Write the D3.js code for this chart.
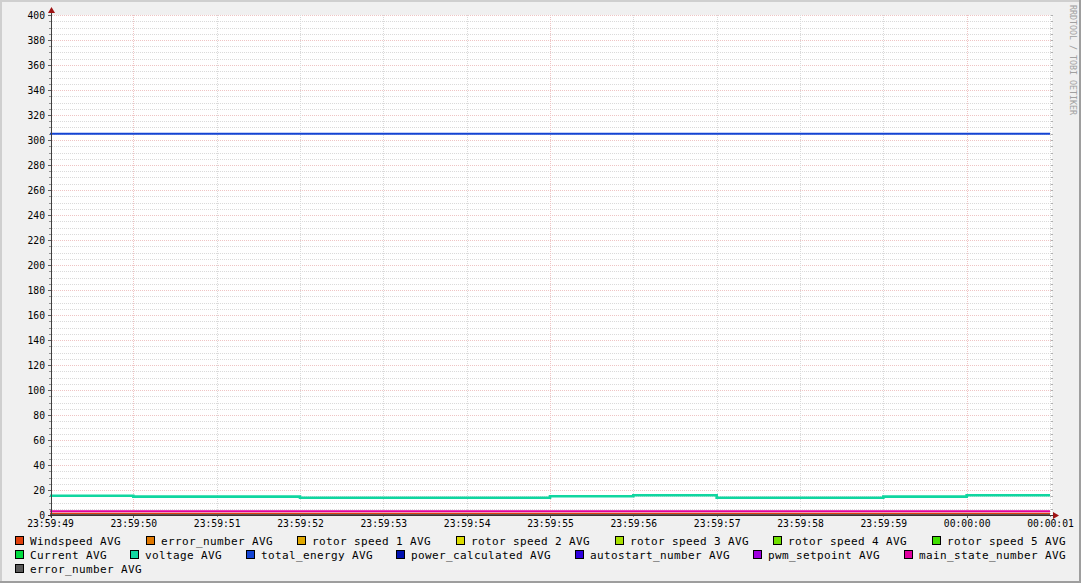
<!DOCTYPE html>
<html><head><meta charset="utf-8">
<script src="https://cdn.jsdelivr.net/npm/d3@7"></script>
<style>
html,body{margin:0;padding:0;background:#f0f0f0;}
svg{display:block;}
text{font-family:"DejaVu Sans Mono",monospace;}
</style></head>
<body>
<svg id="chart" width="1081" height="583"></svg>
<script>
// ---- data ----
const startTime = "2000-01-01T23:59:49";
const endTime = "2000-01-02T00:00:01";
const yTicks = [0,20,40,60,80,100,120,140,160,180,200,220,240,260,280,300,320,340,360,380,400];
const seriesNames = ["Windspeed AVG","error_number AVG","rotor speed 1 AVG","rotor speed 2 AVG","rotor speed 3 AVG","rotor speed 4 AVG","rotor speed 5 AVG","Current AVG","voltage AVG","total_energy AVG","power_calculated AVG","autostart_number AVG","pwm_setpoint AVG","main_state_number AVG","error_number AVG"];
const seriesColors = ["#e0400c","#e07800","#e0a800","#dcdc00","#a8e000","#70e000","#40e000","#00dc40","#11d6a0","#1444d4","#0010b0","#3000e0","#a000e0","#e000a0","#585858"];
const windspeed = [1,1,1,1,1,1,1,1,1,1,1,1];
const errorNumber = [0,0,0,0,0,0,0,0,0,0,0,0];
const rotor1 = [0,0,0,0,0,0,0,0,0,0,0,0];
const rotor2 = [0,0,0,0,0,0,0,0,0,0,0,0];
const rotor3 = [0,0,0,0,0,0,0,0,0,0,0,0];
const rotor4 = [0,0,0,0,0,0,0,0,0,0,0,0];
const rotor5 = [0,0,0,0,0,0,0,0,0,0,0,0];
const current = [0,0,0,0,0,0,0,0,0,0,0,0];
const voltage = [15.4,14.7,14.7,13.8,13.8,13.8,15.0,15.8,13.8,13.8,14.7,15.8];
const totalEnergy = [305,305,305,305,305,305,305,305,305,305,305,305];
const powerCalculated = [0,0,0,0,0,0,0,0,0,0,0,0];
const autostartNumber = [0,0,0,0,0,0,0,0,0,0,0,0];
const pwmSetpoint = [0,0,0,0,0,0,0,0,0,0,0,0];
const mainStateNumber = [3,3,3,3,3,3,3,3,3,3,3,3];
const errorNumber2 = [0,0,0,0,0,0,0,0,0,0,0,0];
const seriesValues = [windspeed,errorNumber,rotor1,rotor2,rotor3,rotor4,rotor5,current,voltage,totalEnergy,powerCalculated,autostartNumber,pwmSetpoint,mainStateNumber,errorNumber2];
const legendRowSizes = [7,7,1];

// ---- layout ----
const W = 1081, H = 583;
const X0 = 51, X1 = 1051, Y0 = 515, Y1 = 15;
const svg = d3.select("#chart");

svg.append("rect").attr("width",W).attr("height",H).attr("fill","#f0f0f0");
// 3D border
svg.append("rect").attr("x",0).attr("y",0).attr("width",W).attr("height",2).attr("fill","#cfcfcf");
svg.append("rect").attr("x",0).attr("y",0).attr("width",2).attr("height",H).attr("fill","#cfcfcf");
svg.append("rect").attr("x",0).attr("y",H-2).attr("width",W).attr("height",2).attr("fill","#9e9e9e");
svg.append("rect").attr("x",W-2).attr("y",0).attr("width",2).attr("height",H).attr("fill","#9e9e9e");

// canvas
svg.append("rect").attr("x",X0).attr("y",Y1).attr("width",X1-X0+1).attr("height",Y0-Y1).attr("fill","#ffffff");

const t0 = new Date(startTime), t1 = new Date(endTime);
const x = d3.scaleTime().domain([t0,t1]).range([50,1050]);
const y = d3.scaleLinear().domain([0,400]).range([Y0,Y1]);

// grid
const grid = svg.append("g").attr("shape-rendering","crispEdges");
const minorY = d3.range(0,401,5);
minorY.forEach(v=>{
  const major = v%20===0;
  const yy = Math.round(y(v))+0.5;
  if(v>0) grid.append("line").attr("x1",X0+1).attr("x2",X1).attr("y1",yy).attr("y2",yy)
    .attr("stroke",major?"#efc4c4":"#dadada").attr("stroke-dasharray","1,1");
  grid.append("line").attr("x1",X0-(major?3:2)).attr("x2",X0).attr("y1",yy).attr("y2",yy).attr("stroke",major?"#606060":"#909090");
  grid.append("line").attr("x1",X1).attr("x2",X1+2).attr("y1",yy).attr("y2",yy).attr("stroke","#b0b0b0");
});
const secTicks = x.ticks(d3.timeSecond.every(1));
secTicks.forEach(d=>{
  const major = d.getSeconds()%5===0;
  const xx = Math.round(x(d))+0.5;
  if(xx>X0+1) grid.append("line").attr("x1",xx).attr("x2",xx).attr("y1",Y1).attr("y2",Y0)
    .attr("stroke",major?"#efc4c4":"#dadada").attr("stroke-dasharray","1,1");
  grid.append("line").attr("x1",xx).attr("x2",xx).attr("y1",Y0).attr("y2",Y0+(major?3:2)).attr("stroke",major?"#606060":"#909090");
});

// series
const line = d3.line().curve(d3.curveStepAfter).x(d=>x(d.t)).y(d=>y(d.v));
seriesValues.forEach((vals,i)=>{
  const pts = vals.map((v,k)=>({t:d3.timeSecond.offset(t0,k),v}));
  pts.push({t:t1,v:vals[vals.length-1]});
  svg.append("path").datum(pts).attr("d",line).attr("fill","none")
    .attr("stroke",seriesColors[i]).attr("stroke-width", i===8?2.6:2);
});

// axes lines
svg.append("line").attr("x1",X0+0.5).attr("x2",X0+0.5).attr("y1",Y0+3).attr("y2",11).attr("stroke","#404040").attr("shape-rendering","crispEdges");
svg.append("line").attr("x1",X0-3).attr("x2",1054).attr("y1",Y0+0.5).attr("y2",Y0+0.5).attr("stroke","#403030").attr("shape-rendering","crispEdges");
svg.append("path").attr("d",`M${X0-3},${13} L${X0+0.5},${7} L${X0+4},${13} Z`).attr("fill","#a01414");
svg.append("path").attr("d",`M1053,${Y0-3} L1059,${Y0+0.5} L1053,${Y0+4} Z`).attr("fill","#a01414");

// y labels
const yAxis = d3.axisLeft(y).tickValues(yTicks).tickSize(0).tickPadding(6).tickFormat(d3.format("d"));
const gy = svg.append("g").attr("transform",`translate(${X0},0)`).call(yAxis);
gy.select(".domain").remove();
gy.selectAll("text").attr("font-family","DejaVu Sans Mono").attr("font-size","9.7px").attr("fill","#000");

// x labels
const xAxis = d3.axisBottom(x).ticks(d3.timeSecond.every(1)).tickSize(0).tickPadding(5).tickFormat(d3.timeFormat("%H:%M:%S"));
const gx = svg.append("g").attr("transform",`translate(0,${Y0})`).call(xAxis);
gx.select(".domain").remove();
gx.selectAll("text").attr("font-family","DejaVu Sans Mono").attr("font-size","9.7px").attr("fill","#000");

// watermark
svg.append("text").attr("transform","translate(1069.5,5) rotate(90)").attr("font-size","8.3px")
  .attr("fill","#a0a0a0").text("RRDTOOL / TOBI OETIKER");

// legend
const legend = svg.append("g");
const LX0 = 15, LX1 = 1066;
let idx = 0;
legendRowSizes.forEach((n,r)=>{
  const baseY = 545 + r*14;
  const items = [];
  for(let k=0;k<n;k++,idx++){
    const g = legend.append("g");
    g.append("rect").attr("x",0.5).attr("y",baseY-8.5).attr("width",8).attr("height",8)
      .attr("fill",seriesColors[idx]).attr("stroke","#000").attr("stroke-width",1).attr("shape-rendering","crispEdges");
    const t = g.append("text").attr("x",15).attr("y",baseY).attr("font-size","11px")
      .attr("letter-spacing","0.38px").attr("fill","#000").text(seriesNames[idx]);
    items.push({g,w:15+t.node().getComputedTextLength()});
  }
  const total = d3.sum(items,d=>d.w);
  const gap = (r<legendRowSizes.length-1 && n>1) ? (LX1-LX0-total)/(n-1) : 20;
  let cx = LX0;
  items.forEach(it=>{ it.g.attr("transform",`translate(${Math.round(cx)},0)`); cx += it.w+gap; });
});
</script>
</body></html>
